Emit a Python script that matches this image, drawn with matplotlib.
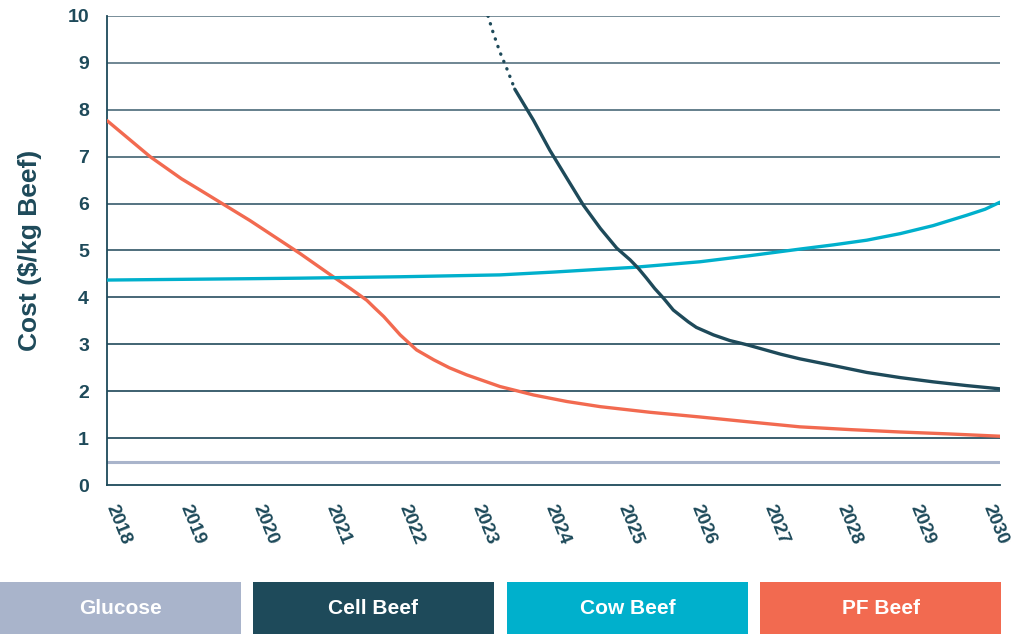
import matplotlib.pyplot as plt
from matplotlib.patches import Rectangle
from matplotlib.transforms import blended_transform_factory, ScaledTranslation

navy = '#1e4a5a'
cow_col = '#00b0cc'
pf_col = '#f26a50'
glu_col = '#a9b4cb'

years = list(range(2018, 2031))

glucose_years = [2018, 2030]
glucose_vals = [0.5, 0.5]

cell_dot_years = [2023.12, 2023.19, 2023.28, 2023.38, 2023.48]
cell_dot_vals = [10.0, 9.64, 9.23, 8.85, 8.44]

cell_years = [2023.48, 2023.73, 2023.95, 2024.18, 2024.4, 2024.63, 2024.85, 2025.03,
              2025.14, 2025.25, 2025.36, 2025.48, 2025.61, 2025.81, 2025.92, 2026.15,
              2026.37, 2026.6, 2027.05, 2027.31, 2027.72, 2028.21, 2028.66, 2029.1,
              2029.55, 2030]
cell_vals = [8.44, 7.78, 7.14, 6.54, 5.97, 5.47, 5.05, 4.8,
             4.62, 4.41, 4.19, 3.98, 3.73, 3.48, 3.36, 3.2,
             3.08, 2.99, 2.79, 2.69, 2.56, 2.4, 2.29, 2.2,
             2.12, 2.05]

cow_years = [2018, 2020, 2020.59, 2021.94, 2023.28, 2024, 2024.63, 2025.07, 2025.97,
             2026.64, 2027.31, 2027.76, 2028.21, 2028.66, 2029.1, 2029.55, 2029.8, 2030]
cow_vals = [4.37, 4.40, 4.41, 4.44, 4.48, 4.54, 4.6, 4.64, 4.76,
            4.89, 5.03, 5.12, 5.22, 5.36, 5.53, 5.75, 5.88, 6.03]

pf_years = [2018, 2018.58, 2019, 2019.25, 2019.92, 2020.59, 2021.04, 2021.27, 2021.49,
            2021.6, 2021.72, 2021.94, 2022.16, 2022.39, 2022.6, 2022.83, 2023.28, 2023.73,
            2024.18, 2024.63, 2025.3, 2025.97, 2026.6, 2027.31, 2028, 2028.66, 2029.3, 2030]
pf_vals = [7.77, 7.0, 6.53, 6.29, 5.64, 4.94, 4.44, 4.19, 3.94,
           3.77, 3.59, 3.2, 2.88, 2.67, 2.5, 2.35, 2.1, 1.92,
           1.78, 1.67, 1.55, 1.45, 1.35, 1.24, 1.18, 1.13, 1.09, 1.04]

legend_labels = ['Glucose', 'Cell Beef', 'Cow Beef', 'PF Beef']
legend_colors = [glu_col, navy, cow_col, pf_col]

plt.rcParams['font.family'] = ['Liberation Sans', 'DejaVu Sans']

fig = plt.figure(figsize=(10.11, 6.34), dpi=100)
ax = fig.add_axes([107/1011, 1 - 485/634, 893/1011, 469/634])

# gridlines fade from grey at the top to navy at the bottom
grid_cols = ['#2b5262', '#2e5464', '#335868', '#395c6c', '#406272', '#476877',
             '#4f6e7c', '#587583', '#637d8a', '#6d8591']
for i, c in zip(range(1, 11), grid_cols):
    ax.axhline(i, color=c, lw=1.3, zorder=1)

ax.plot(glucose_years, glucose_vals, color=glu_col, lw=2.2, zorder=2)
ax.plot(pf_years, pf_vals, color=pf_col, lw=2.4, zorder=3, solid_capstyle='round',
        solid_joinstyle='round')
ax.plot(cow_years, cow_vals, color=cow_col, lw=2.4, zorder=3, solid_capstyle='round',
        solid_joinstyle='round')
ax.plot(cell_years, cell_vals, color=navy, lw=2.4, zorder=4, solid_capstyle='round',
        solid_joinstyle='round')
ax.plot(cell_dot_years, cell_dot_vals, color=navy, lw=2.4, ls=(0, (0.1, 2.3)),
        dash_capstyle='round', zorder=4)

ax.set_xlim(2018, 2030)
ax.set_ylim(0, 10)
ax.set_yticks(range(0, 11))
ax.set_xticks(years)
ax.set_xticklabels([])
ax.tick_params(length=0, labelsize=14, labelcolor=navy)
ax.tick_params(axis='y', pad=13)
for lab in ax.get_yticklabels():
    lab.set_fontweight('bold')

# year labels, slanted, drifting slightly left toward the right end
base = blended_transform_factory(ax.transData, ax.transAxes)
for i, yr in enumerate(years):
    dx = (4 - 1.33 * i) / 100
    ax.text(yr, 0, str(yr), transform=base + ScaledTranslation(dx, -0.205, fig.dpi_scale_trans),
            rotation=-68, rotation_mode='anchor', ha='left', va='center',
            fontsize=13.5, fontweight='bold', color=navy, clip_on=False)

for s in ['top', 'right']:
    ax.spines[s].set_visible(False)
for s in ['left', 'bottom']:
    ax.spines[s].set_color(navy)
    ax.spines[s].set_linewidth(1.3)

ax.set_ylabel('Cost ($/kg Beef)', fontsize=19, fontweight='bold', color=navy,
              ha='center', va='center')
ax.yaxis.set_label_coords(-0.086, 0.5)

# legend boxes along the bottom
box_x = [0, 253, 507, 760]
for x0, lab, col in zip(box_x, legend_labels, legend_colors):
    fig.patches.append(Rectangle((x0/1011, 0), 241/1011, 52/634, transform=fig.transFigure,
                                 facecolor=col, edgecolor='none'))
    fig.text((x0 + 120.5)/1011, 26/634, lab, color='white', fontsize=15,
             fontweight='bold', ha='center', va='center')

fig.savefig('out.png', dpi=100)
